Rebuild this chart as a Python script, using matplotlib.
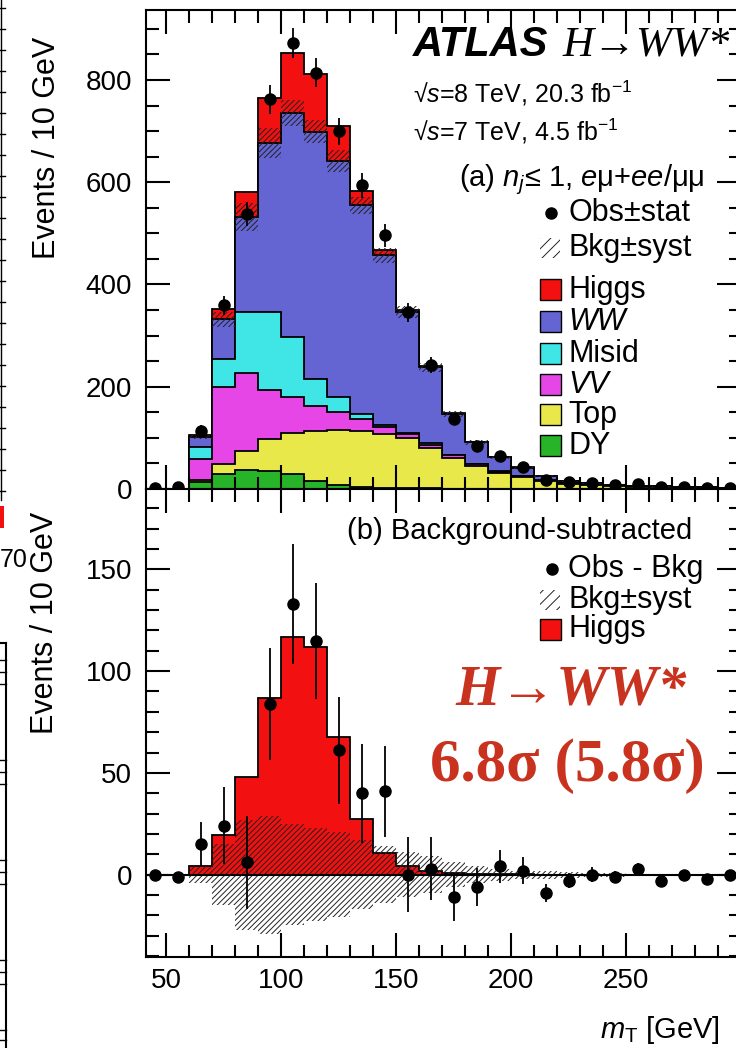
import numpy as np
import matplotlib
matplotlib.use("Agg")
import matplotlib.pyplot as plt
from matplotlib.patches import Rectangle
from matplotlib.lines import Line2D

# m_T binning (10 GeV bins) and bin centres
MT_EDGES = [40, 50, 60, 70, 80, 90, 100, 110, 120, 130, 140, 150, 160, 170,
            180, 190, 200, 210, 220, 230, 240, 250, 260, 270, 280, 290, 300]
MT_CENTERS = [45, 55, 65, 75, 85, 95, 105, 115, 125, 135, 145, 155, 165, 175,
              185, 195, 205, 215, 225, 235, 245, 255, 265, 275, 285, 295]

# background + signal expectations per bin (events / 10 GeV)
DY = [0, 0, 14, 30, 37, 35, 30, 16, 8, 4, 2, 1, 1, 0.5,
      0.5, 0.3, 0.2, 0.2, 0.1, 0.1, 0.1, 0, 0, 0, 0, 0]
TOP = [0, 0, 3, 18, 38, 63, 80, 97, 108, 109, 106, 99, 79, 60.5,
       44.5, 31.7, 22.8, 14.8, 9.9, 6.9, 4.9, 4, 3, 2, 2, 1]
VV = [0, 0, 41, 151, 151, 96, 69, 50, 35, 24, 14, 8, 7, 5,
      3, 2, 2, 1, 1, 0.5, 0.5, 0.2, 0.2, 0.2, 0.1, 0.1]
MISID = [0, 0, 25, 56, 120, 152, 118, 52, 29, 9, 3, 2, 2, 1,
         1, 1, 1, 1, 0.5, 0.5, 0.5, 0.3, 0.2, 0.2, 0.1, 0.1]
WW = [0, 0, 19, 77, 186, 331, 438, 484, 462, 409, 332, 236, 149, 80,
      42, 27, 16, 9, 4.5, 3, 2, 1.5, 1.6, 1.6, 0.8, 0.8]
HIGGS = [0, 0, 4.4, 19.5, 48, 87, 117, 112, 67.5, 27.5, 10.7, 4, 2, 1,
         0.3, 0.2, 0.1, 0, 0, 0, 0, 0, 0, 0, 0, 0]
BKG_SYST = [0, 0, 4, 15, 27, 29, 25, 23, 21, 17, 14, 11, 9, 6,
            4, 3, 2, 2, 1.5, 1, 1, 0.5, 0.5, 0.5, 0.5, 0.5]

# observed data, its statistical error, and observed minus background
OBS = [2, 3, 114, 359, 538, 762, 872, 814, 700, 594, 496, 346, 242, 136,
       85, 65, 44, 17, 13, 11, 7, 9, 4, 4, 2, 2]
STAT_ERR = [1.4, 1.7, 10.7, 19, 23, 27.6, 29.5, 28.5, 26.5, 24.4, 22.3, 18.6, 15.6, 11.7,
            9.3, 8, 6.6, 4.5, 3.8, 3.5, 3, 2.8, 2.4, 2, 1.7, 1.4]
OBS_MINUS_BKG = [0, -1, 15, 24, 6, 84, 133, 115, 61, 40, 41, 0, 3, -11,
                 -6, 4, 2, -9, -3, 0, -1, 3, -3, 0, -2, 0]

STACK = [("DY", DY, "#28b428"), ("Top", TOP, "#e8e84a"), ("VV", VV, "#e646e6"),
         ("Misid", MISID, "#40e6e6"), ("WW", WW, "#6464d2"), ("Higgs", HIGGS, "#f21010")]
RED = "#f21010"
SIG_TEXT = "#c8321e"

plt.rcParams.update({
    "font.family": ["Liberation Sans", "DejaVu Sans"],
    "mathtext.fontset": "custom",
    "mathtext.rm": "Liberation Sans",
    "mathtext.it": "Liberation Sans:italic",
    "mathtext.bf": "Liberation Sans:bold",
    "hatch.linewidth": 0.7,
    "axes.linewidth": 1.5,
})
HATCH = "//////"
SERIF = ["Liberation Serif", "DejaVu Serif"]

fig = plt.figure(figsize=(7.36, 10.48), dpi=100)
ax_top = fig.add_axes([0.1984, 0.5334, 0.8084, 0.4571])
ax_bot = fig.add_axes([0.1984, 0.0868, 0.8084, 0.4466])

edges = np.array(MT_EDGES, dtype=float)
levels = np.cumsum(np.array([s[1] for s in STACK], dtype=float), axis=0)
bkg = levels[-2]
syst = np.array(BKG_SYST, dtype=float)

# --- (a) stacked expectation ---
for (name, _, color), lvl in reversed(list(zip(STACK, levels))):
    ax_top.stairs(lvl, edges, baseline=0, fill=True, facecolor=color,
                  edgecolor="black", linewidth=1.3)
ax_top.stairs(bkg + syst, edges, baseline=bkg - syst, fill=True, facecolor="none",
              edgecolor="#222222", hatch=HATCH, linewidth=0)
ax_top.errorbar(MT_CENTERS, OBS, yerr=STAT_ERR, fmt="o", color="black", ms=8,
                elinewidth=1.3, capsize=0, zorder=5)
ax_top.set_ylim(0, 937)
ax_top.set_yticks([0, 200, 400, 600, 800])
ax_top.set_yticks(np.arange(0, 950, 50), minor=True)

# --- (b) background-subtracted ---
ax_bot.stairs(HIGGS, edges, baseline=0, fill=True, facecolor=RED,
              edgecolor="black", linewidth=1.3)
ax_bot.stairs(syst, edges, baseline=-syst, fill=True, facecolor="none",
              edgecolor="#222222", hatch=HATCH, linewidth=0)
ax_bot.axhline(0, color="black", linewidth=1.5)
ax_bot.errorbar(MT_CENTERS, OBS_MINUS_BKG, yerr=STAT_ERR, fmt="o", color="black", ms=8,
                elinewidth=1.3, capsize=0, zorder=5)
ax_bot.set_ylim(-40.5, 189.5)
ax_bot.set_yticks([0, 50, 100, 150])
ax_bot.set_yticks(np.arange(-40, 190, 10), minor=True)

for ax in (ax_top, ax_bot):
    ax.set_xlim(41.3, 300)
    ax.set_xticks([50, 100, 150, 200, 250])
    ax.set_xticks(np.arange(50, 300, 10), minor=True)
    ax.tick_params(which="both", direction="in", top=True, right=True, width=1.5,
                   labelsize=20, pad=8)
    ax.tick_params(which="major", length=17)
    ax.tick_params(which="minor", length=9)
    ax.tick_params(axis="y", pad=10)
ax_top.tick_params(labelbottom=False)

fig.text(47 / 736, 1 - 148 / 1048, "Events / 10 GeV", rotation=90, ha="center",
         va="center", fontsize=22)
fig.text(45 / 736, 1 - 623 / 1048, "Events / 10 GeV", rotation=90, ha="center",
         va="center", fontsize=22)
fig.text(720 / 736, 1 - 1030 / 1048, r"$m_{\rm T}$ [GeV]", ha="right", va="center",
         fontsize=21)

# edge of the neighbouring figure on the left
fig.add_artist(Line2D([6 / 736, 6 / 736], [0, 1 - 643 / 1048], color="black", lw=1.5))
fig.add_artist(Line2D([0, 6 / 736], [1 - 643 / 1048] * 2, color="black", lw=1.5))
for ty in (660, 672, 684, 760, 772, 784, 860, 872, 884, 960, 972, 984, 1030, 1040):
    fig.add_artist(Line2D([0, 6 / 736], [1 - ty / 1048] * 2, color="black", lw=1.0))
for ty in range(8, 500, 21):
    fig.add_artist(Line2D([0, 5 / 736], [1 - ty / 1048] * 2, color="black", lw=1.0))
fig.add_artist(Line2D([1 / 736, 1 / 736], [1 - 500 / 1048, 1], color="black", lw=1.0))
fig.add_artist(Rectangle((0, 1 - 528 / 1048), 4 / 736, 22 / 1048, facecolor=RED,
                         edgecolor="none"))
fig.text(0, 1 - 560 / 1048, "70", ha="left", va="center", fontsize=18)


def px_top(x, y):
    return (x - 146) / 595, (489 - y) / 479


def px_bot(x, y):
    return (x - 146) / 595, (957 - y) / 468


# top panel labels and legend
ta = ax_top.transAxes
ax_top.text(*px_top(413, 45), "ATLAS", transform=ta, fontsize=30, fontweight="bold",
            style="italic", va="center")
ax_top.text(*px_top(562, 45), "H\u2192WW*", transform=ta, fontsize=31, style="italic",
            family=SERIF, va="center")
ax_top.text(*px_top(413, 93), "\u221a$s$=8 TeV, 20.3 fb$^{-1}$", transform=ta,
            fontsize=18, va="center")
ax_top.text(*px_top(413, 131), "\u221a$s$=7 TeV, 4.5 fb$^{-1}$", transform=ta,
            fontsize=18, va="center")
ax_top.text(*px_top(705, 180), "(a) $n_j$\u2264 1, $e$\u03bc+$ee$/\u03bc\u03bc",
            transform=ta, fontsize=21, va="center", ha="right")

ax_top.plot(*px_top(551, 213), "o", color="black", ms=8, transform=ta, clip_on=False)
ax_top.text(*px_top(568, 213), "Obs\u00b1stat", transform=ta, fontsize=22, va="center")
hx, hy = px_top(540, 258)
ax_top.add_patch(Rectangle((hx, hy), 20 / 595, 20 / 479, transform=ta, facecolor="none",
                           edgecolor="#222222", hatch="///", linewidth=0))
ax_top.text(*px_top(568, 248), "Bkg\u00b1syst", transform=ta, fontsize=22, va="center")

rows = [("Higgs", RED, 290, "normal"), ("WW", "#6464d2", 322, "italic"),
        ("Misid", "#40e6e6", 354, "normal"), ("VV", "#e646e6", 385, "italic"),
        ("Top", "#e8e84a", 415, "normal"), ("DY", "#28b428", 446, "normal")]
for label, color, y, st in rows:
    bx, by = px_top(540, y + 10)
    ax_top.add_patch(Rectangle((bx, by), 21 / 595, 21 / 479, transform=ta,
                               facecolor=color, edgecolor="black", linewidth=1.0))
    ax_top.text(*px_top(568, y), label, transform=ta, fontsize=22, va="center", style=st)

# lower panel labels and legend
tb = ax_bot.transAxes
ax_bot.text(*px_bot(692, 531), "(b) Background-subtracted", transform=tb, fontsize=21,
            ha="right", va="center")
ax_bot.plot(*px_bot(552, 569), "o", color="black", ms=8, transform=tb, clip_on=False)
ax_bot.text(*px_bot(568, 569), "Obs - Bkg", transform=tb, fontsize=22, va="center")
hx, hy = px_bot(540, 610)
ax_bot.add_patch(Rectangle((hx, hy), 20 / 595, 20 / 468, transform=tb, facecolor="none",
                           edgecolor="#222222", hatch="///", linewidth=0))
ax_bot.text(*px_bot(568, 600), "Bkg\u00b1syst", transform=tb, fontsize=22, va="center")
bx, by = px_bot(540, 640)
ax_bot.add_patch(Rectangle((bx, by), 21 / 595, 21 / 468, transform=tb, facecolor=RED,
                           edgecolor="black", linewidth=1.0))
ax_bot.text(*px_bot(568, 629), "Higgs", transform=tb, fontsize=22, va="center")

ax_bot.text(*px_bot(571, 690), "H\u2192WW*", transform=tb, fontsize=41, style="italic",
            fontweight="bold", family=SERIF, color=SIG_TEXT, ha="center", va="center")
ax_bot.text(*px_bot(567, 766), "6.8\u03c3 (5.8\u03c3)", transform=tb, fontsize=44,
            fontweight="bold", family=SERIF, color=SIG_TEXT, ha="center", va="center")

fig.savefig("out.png", dpi=100)
